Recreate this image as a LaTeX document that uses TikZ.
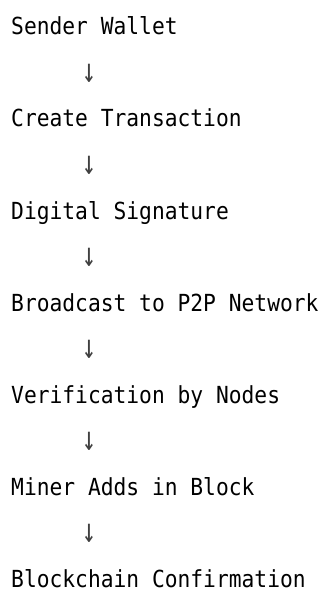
\documentclass[tikz,border=0pt]{standalone}
\usepackage{fontspec}
\newfontfamily\flowfont[FakeStretch=0.905]{DejaVu Sans Mono}
\newfontfamily\arrowfont[FakeStretch=0.7]{DejaVu Sans Mono}
\begin{document}
\begin{tikzpicture}[x=1pt,y=-1pt,
    every node/.style={inner sep=0pt,font=\flowfont\fontsize{23.5}{28}\selectfont},
    stepline/.style={anchor=base west},
    downarrow/.style={anchor=center,text=black!75,font=\arrowfont\fontsize{34}{40}\selectfont}]
	\useasboundingbox (0,0) rectangle (329,599);

	% the steps, one per line
	\node[stepline] (sender) at (11,35) {Sender Wallet};
	\node[stepline] (create) at (11,127) {Create Transaction};
	\node[stepline] (sign) at (11,219) {Digital Signature};
	\node[stepline] (broadcast) at (11,311) {Broadcast to P2P Network};
	\node[stepline] (verify) at (11,403) {Verification by Nodes};
	\node[stepline] (miner) at (11,495) {Miner Adds in Block};
	\node[stepline] (confirm) at (11,587) {Blockchain Confirmation};

	% arrows between the lines
	\node[downarrow] (d1) at (89,73) {↓};
	\node[downarrow] (d2) at (89,165) {↓};
	\node[downarrow] (d3) at (89,257) {↓};
	\node[downarrow] (d4) at (89,349) {↓};
	\node[downarrow] (d5) at (89,441) {↓};
	\node[downarrow] (d6) at (89,533) {↓};
\end{tikzpicture}
\end{document}
